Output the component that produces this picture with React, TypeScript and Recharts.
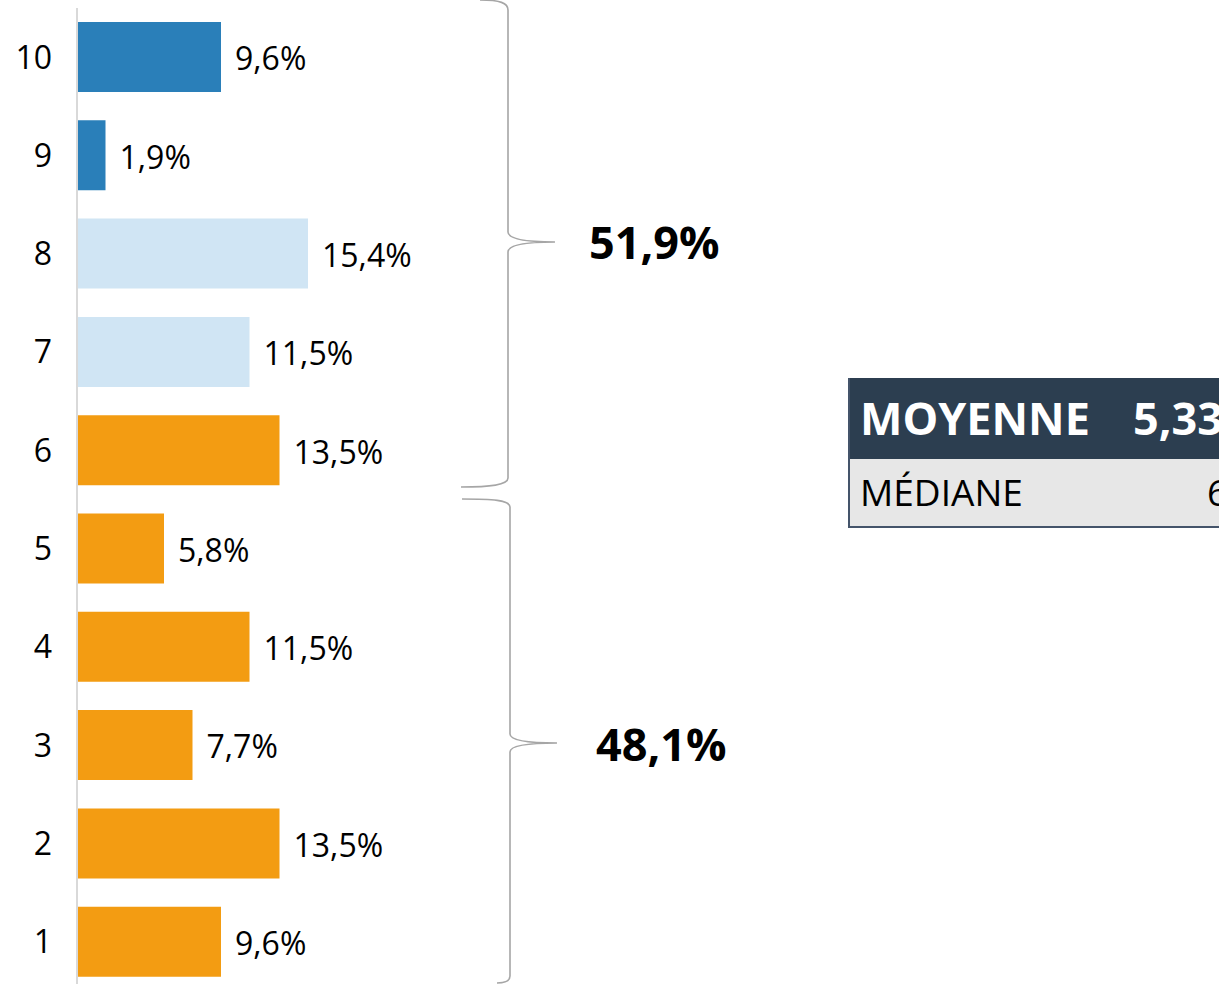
import React from "react";
import { BarChart, Bar, XAxis, YAxis, Cell, LabelList } from "recharts";

const scores = ["10", "9", "8", "7", "6", "5", "4", "3", "2", "1"];
const shares = [9.6, 1.9, 15.4, 11.5, 13.5, 5.8, 11.5, 7.7, 13.5, 9.6];
const groupTotals = ["51,9%", "48,1%"];
const statLabels = ["MOYENNE", "MÉDIANE"];
const statValues = ["5,33", "6"];

const DARK_BLUE = "#2a7fb9";
const LIGHT_BLUE = "#d0e5f4";
const ORANGE = "#f39c12";
const AXIS = "#d9d9d9";
const BRACE = "#a6a6a6";
const FONT = "'Open Sans', sans-serif";

const data = scores.map((s, i) => ({ score: s, share: shares[i] }));

function colorFor(score: string) {
  const n = Number(score);
  if (n >= 9) return DARK_BLUE;
  if (n >= 7) return LIGHT_BLUE;
  return ORANGE;
}

const fmt = (v: number) => `${v.toFixed(1).replace(".", ",")}%`;

export default function App() {
  return (
    <div
      style={{
        position: "absolute",
        left: 0,
        top: 0,
        width: 1219,
        height: 984,
        overflow: "hidden",
        background: "#fff",
        fontFamily: FONT,
      }}
    >
      <BarChart
        layout="vertical"
        width={460}
        height={991}
        data={data}
        margin={{ top: 8, right: 83, bottom: 0, left: 0 }}
      >
        <XAxis type="number" domain={[0, 20]} hide />
        <YAxis
          type="category"
          dataKey="score"
          width={77}
          tickLine={false}
          tickSize={0}
          tickMargin={25}
          axisLine={{ stroke: AXIS, strokeWidth: 2 }}
          tick={{ fill: "#000", fontSize: 32, fontFamily: FONT }}
        />
        <Bar dataKey="share" barSize={70} isAnimationActive={false}>
          {data.map((d) => (
            <Cell key={d.score} fill={colorFor(d.score)} />
          ))}
          <LabelList
            dataKey="share"
            position="right"
            offset={14}
            dy={2}
            formatter={(v: any) => fmt(Number(v))}
            style={{ fill: "#000", fontSize: 32, fontFamily: FONT }}
            isAnimationActive={false}
          />
        </Bar>
      </BarChart>

      {/* braces and group totals */}
      <svg
        width={1219}
        height={984}
        style={{ position: "absolute", left: 0, top: 0, pointerEvents: "none" }}
      >
        <path
          d="M480,0 C500,0 508,3 508,10 L508,232 C508,240 530,242 555,242 C530,242 508,244 508,252 L508,478 C508,485 490,487 461,487"
          fill="none"
          stroke={BRACE}
          strokeWidth={1.6}
        />
        <path
          d="M462,499 C492,499 510,500 510,507 L510,734 C510,741 532,743 557,743 C532,743 510,745 510,752 L510,976 C510,981 505,983 497,983"
          fill="none"
          stroke={BRACE}
          strokeWidth={1.6}
        />
        <text x={589} y={259} fontFamily={FONT} fontWeight={700} fontSize={45} fill="#000">
          {groupTotals[0]}
        </text>
        <text x={596} y={761} fontFamily={FONT} fontWeight={700} fontSize={45} fill="#000">
          {groupTotals[1]}
        </text>
      </svg>

      {/* stats table */}
      <div
        style={{
          position: "absolute",
          left: 848,
          top: 378,
          width: 420,
          height: 150,
          boxSizing: "border-box",
          borderLeft: "2px solid #44546a",
          borderBottom: "2px solid #44546a",
        }}
      >
        <div style={{ position: "relative", height: 81, background: "#2c3e50", color: "#fff" }}>
          <span style={{ position: "absolute", left: 10, top: 10, fontSize: 45, fontWeight: 700, lineHeight: "60px" }}>
            {statLabels[0]}
          </span>
          <span style={{ position: "absolute", left: 283, top: 10, fontSize: 45, fontWeight: 700, lineHeight: "60px" }}>
            {statValues[0]}
          </span>
        </div>
        <div style={{ position: "relative", height: 67, background: "#e7e7e7", color: "#000" }}>
          <span style={{ position: "absolute", left: 10, top: 8, fontSize: 37, lineHeight: "50px" }}>
            {statLabels[1]}
          </span>
          <span style={{ position: "absolute", left: 357, top: 8, fontSize: 37, lineHeight: "50px" }}>
            {statValues[1]}
          </span>
        </div>
      </div>
    </div>
  );
}
